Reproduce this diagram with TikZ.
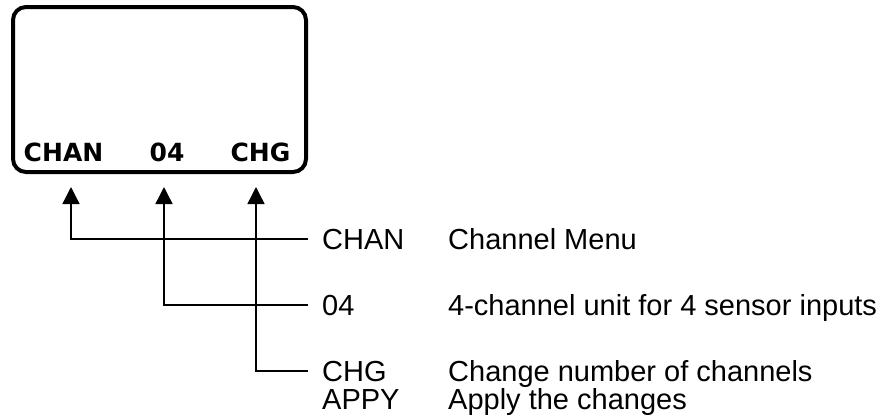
\documentclass[tikz,border=0pt]{standalone}
\usepackage{fontspec}
\setmainfont{Liberation Sans}
\newfontfamily\lcdfont{DejaVu Sans}
\usetikzlibrary{positioning,arrows.meta}

\begin{document}
\begin{tikzpicture}[x=1pt,y=-1pt,
  lcd/.style={font=\lcdfont\bfseries\fontsize{25}{26}\selectfont,inner sep=0pt,anchor=base},
  lbl/.style={font=\fontsize{29}{32}\selectfont,inner sep=0pt,anchor=base west},
  pointer/.style={line width=1.4pt,shorten <=14pt,-{Triangle[length=17pt,width=17pt]}}]
\useasboundingbox (0,0) rectangle (888,418);
% display window
\draw[line width=4pt,rounded corners=13pt] (13,7) rectangle (306,172);
\node[lcd] (dchan) at (63.5,161) {CHAN};
\node[lcd] (dnum) at (167,161) {04};
\node[lcd] (dchg) at (260.5,161) {CHG};
\coordinate (tchan) at (71,187);
\coordinate (tnum) at (164,187);
\coordinate (tchg) at (256,187);
% legend
\node[lbl] (lchan) at (322,249) {CHAN};
\node[lbl] (lnum) at (322,315) {04};
\node[lbl] (lchg) at (322,381) {CHG};
\node[lbl] (lappy) at (322,409) {APPY};
\node[lbl] (xchan) at (448,249) {Channel Menu};
\node[lbl] (xnum) at (448,315) {4-channel unit for 4 sensor inputs};
\node[lbl] (xchg) at (448,381) {Change number of channels};
\node[lbl] (xappy) at (448,409) {Apply the changes};
\draw[pointer] (lchan.west) -| (tchan);
\draw[pointer] (lnum.west) -| (tnum);
\draw[pointer] (lchg.west) -| (tchg);
\end{tikzpicture}
\end{document}
